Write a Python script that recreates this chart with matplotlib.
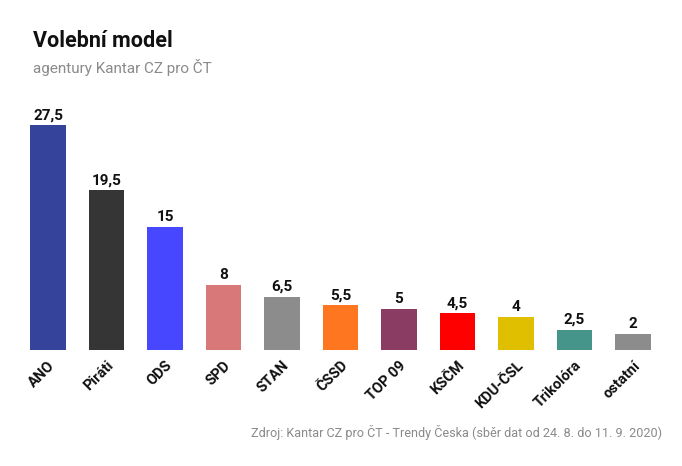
import matplotlib.pyplot as plt

strany = ['ANO', 'Piráti', 'ODS', 'SPD', 'STAN', 'ČSSD', 'TOP 09', 'KSČM', 'KDU-ČSL', 'Trikolóra', 'ostatní']
hodnoty = [27.5, 19.5, 15, 8, 6.5, 5.5, 5, 4.5, 4, 2.5, 2]
barvy = ['#36439a', '#353535', '#4747ff', '#d97878', '#8c8c8c', '#ff7620',
         '#8b3c62', '#ff0000', '#e0bf00', '#46958a', '#8c8c8c']

plt.rcParams['font.family'] = ['Roboto', 'DejaVu Sans']

fig = plt.figure(figsize=(6.82, 4.66), dpi=100)
ax = fig.add_axes([18.75 / 682, 116 / 466, 643.5 / 682, 245.5 / 466])

x = range(len(strany))
bars = ax.bar(x, hodnoty, width=0.6, color=barvy)

for b, v in zip(bars, hodnoty):
    txt = ('%g' % v).replace('.', ',')
    ax.annotate(txt, (b.get_x() + b.get_width() / 2, v), xytext=(0, 2),
                textcoords='offset points', ha='center', va='bottom',
                fontsize=11, fontweight='bold', color='#111111')

ax.set_xlim(-0.5, 10.5)
ax.set_ylim(0, 30)
ax.set_xticks(list(x))
ax.set_xticklabels(strany, rotation=45, ha='right', rotation_mode='anchor',
                   fontsize=10.5, fontweight='bold', color='#111111')
ax.tick_params(axis='x', length=0, pad=6)
ax.set_yticks([])
for s in ax.spines.values():
    s.set_visible(False)

fig.text(33 / 682, 1 - 41 / 466, 'Volební model', fontsize=15.5, fontweight='bold',
         color='#111111', va='center')
fig.text(33 / 682, 1 - 67 / 466, 'agentury Kantar CZ pro ČT', fontsize=11,
         color='#8a8a8a', va='center')
fig.text(662 / 682, 1 - 432 / 466,
         'Zdroj: Kantar CZ pro ČT - Trendy Česka (sběr dat od 24. 8. do 11. 9. 2020)',
         fontsize=9.1, color='#8a8a8a', ha='right', va='center')

fig.savefig('out.png', dpi=100)
